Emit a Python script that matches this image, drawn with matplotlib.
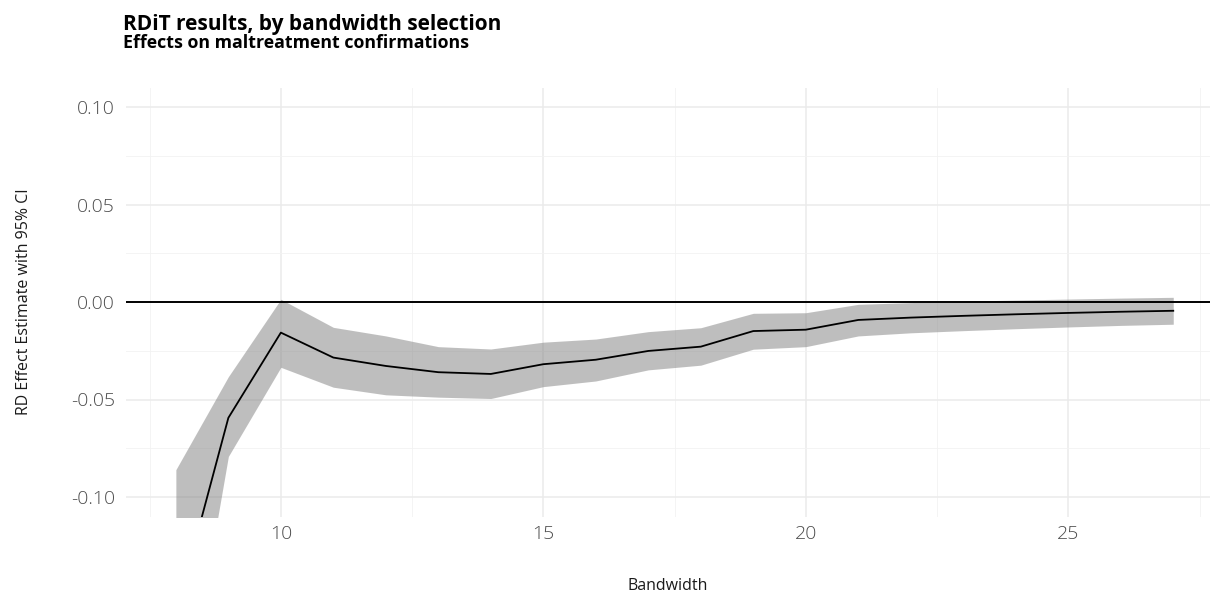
import matplotlib
matplotlib.use("Agg")
import matplotlib.pyplot as plt
from matplotlib.ticker import MultipleLocator

plt.rcParams['font.family'] = ['Open Sans', 'DejaVu Sans']

# bandwidth and RDiT estimates
bandwidth = [8, 9, 10, 11, 12, 13, 14, 15, 16, 17, 18, 19, 20, 21, 22, 23, 24, 25, 26, 27]
estimate = [-0.160, -0.0594, -0.0157, -0.0285, -0.0328, -0.0360, -0.0369, -0.0319, -0.0296, -0.0251,
            -0.0229, -0.0149, -0.0142, -0.0092, -0.0080, -0.0071, -0.0063, -0.0056, -0.0050, -0.0045]
ci_upper = [-0.086, -0.0383, 0.0014, -0.0130, -0.0174, -0.0229, -0.0241, -0.0206, -0.0190, -0.0152,
            -0.0132, -0.0058, -0.0055, -0.0012, -0.0003, 0.0004, 0.0010, 0.0015, 0.0020, 0.0024]
ci_lower = [-0.234, -0.0792, -0.0335, -0.0437, -0.0476, -0.0488, -0.0495, -0.0434, -0.0405, -0.0348,
            -0.0324, -0.0242, -0.0229, -0.0174, -0.0158, -0.0147, -0.0137, -0.0128, -0.0120, -0.0114]
yticks = [-0.10, -0.05, 0.0, 0.05, 0.10]
ytick_labels = ['-0.10', '-0.05', '0.00', '0.05', '0.10']

W, H = 1210, 594
fig = plt.figure(figsize=(W / 100, H / 100), dpi=100)
left, right, top, bottom = 126, 1210, 87.5, 516.5
ax = fig.add_axes([left / W, 1 - bottom / H, (right - left) / W, (bottom - top) / H])

ax.fill_between(bandwidth, ci_lower, ci_upper, color='#7f7f7f', alpha=0.5, linewidth=0, zorder=2)
ax.plot(bandwidth, estimate, color='black', linewidth=1.3, zorder=3)
ax.axhline(0, color='black', linewidth=1.4, zorder=4)

ax.set_xlim(7.05, 27.70)
ax.set_ylim(-0.11, 0.11)
ax.xaxis.set_major_locator(MultipleLocator(5))
ax.xaxis.set_minor_locator(MultipleLocator(2.5))
ax.yaxis.set_minor_locator(MultipleLocator(0.025))
ax.set_yticks(yticks)
ax.set_yticklabels(ytick_labels)

ax.grid(which='major', color='#ebebeb', linewidth=1.1, zorder=0)
ax.grid(which='minor', color='#f2f2f2', linewidth=0.6, zorder=0)
ax.set_axisbelow(True)
for s in ax.spines.values():
    s.set_visible(False)
ax.tick_params(which='both', length=0)
ax.tick_params(axis='both', labelsize=14, labelcolor='#4d4d4d')
ax.tick_params(axis='x', pad=6)
ax.tick_params(axis='y', pad=8)
for lab in ax.get_xticklabels() + ax.get_yticklabels():
    lab.set_fontweight('light')

ax.set_xlabel('Bandwidth', fontsize=11.5, color='#1a1a1a', labelpad=25)
ax.set_ylabel('RD Effect Estimate with 95% CI', fontsize=11.5, color='#1a1a1a', labelpad=28)

fig.text(123 / W, 1 - 30 / H, 'RDiT results, by bandwidth selection', fontsize=15,
         fontweight='bold', color='black', ha='left', va='baseline')
fig.text(123 / W, 1 - 48 / H, 'Effects on maltreatment confirmations', fontsize=12.8,
         fontweight='bold', color='black', ha='left', va='baseline')

fig.savefig('out.png', dpi=100)
